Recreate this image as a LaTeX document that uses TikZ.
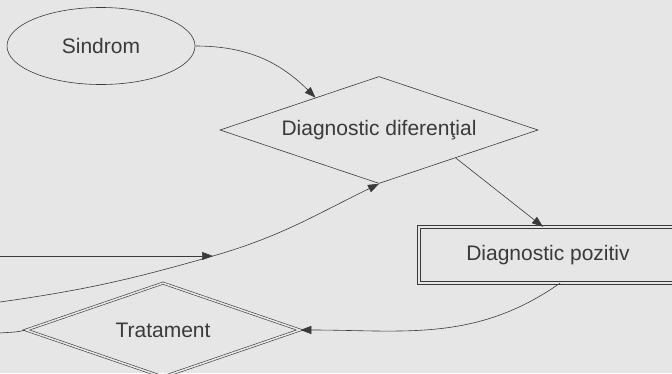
\documentclass[tikz,border=0pt]{standalone}
\usepackage{fontspec}
\setmainfont{Liberation Sans}
\usetikzlibrary{arrows.meta,shapes.geometric}
\definecolor{cInk}{HTML}{3A3A3A}
\definecolor{cPaper}{HTML}{E6E6E6}

\begin{document}
\begin{tikzpicture}[
  x=1pt, y=1pt,
  font=\fontsize{21}{25}\selectfont,
  every node/.style={text=cInk},
  contur/.style={draw=cInk, line width=0.6pt, inner sep=0pt},
  sindromnod/.style={contur, ellipse, minimum width=188pt, minimum height=77pt},
  decizie/.style={contur, diamond, aspect=3, minimum width=318pt, minimum height=107pt},
  dublu/.style={double=cPaper, double distance=1.6pt},
  tratnod/.style={contur, dublu, diamond, aspect=3, minimum width=274pt, minimum height=94pt},
  rezultat/.style={inner sep=0pt, minimum width=258pt, minimum height=56pt},
  chenar/.style={draw=cInk, line width=0.7pt, double=cPaper, double distance=2.4pt},
  arr/.style={-{Triangle[length=11pt, width=8pt]}, line width=0.6pt, cInk},
  fir/.style={line width=0.6pt, cInk},
]

% ---------- page ----------
\useasboundingbox (0,0) rectangle (672,373);
\fill[cPaper] (0,0) rectangle (672,373);
\clip (0,0) -- (672,0) -- (672,373) -- (0,373) -- cycle;

% ---------- nodes ----------
\node[sindromnod] (sindrom) at (101,327) {Sindrom};
\node[decizie] (difer) at (379,243) {Diagnostic diferenţial};
\node[rezultat] (pozitiv) at (548,118) {Diagnostic pozitiv};
\draw[chenar] (pozitiv.north west) -- (pozitiv.north east)
  -- (pozitiv.south east) -- (pozitiv.south west) -- cycle;
\node[tratnod] (tratament) at (163,43) {Tratament};

% ---------- loose ends (cut by the page edge) ----------
\coordinate (intrareA) at (0,117);
\coordinate (jonctiune) at (213,117);
\coordinate (intrareB) at (0,71);
\coordinate (iesire) at (0,40);

% ---------- arrows ----------
\draw[arr] (sindrom.east) to[out=0, in=135] (difer.153);
\draw[arr] (difer.-20) -- (pozitiv.100);
\draw[arr] (intrareA) -- (jonctiune);
\draw[arr] (intrareB) to[out=8, in=196] (jonctiune) to[out=16, in=206] (difer.south);
\draw[arr] (pozitiv.-67) to[out=215, in=0] (tratament.east);
\draw[fir] (iesire) to[out=5, in=195] (tratament.west);

\end{tikzpicture}
\end{document}
